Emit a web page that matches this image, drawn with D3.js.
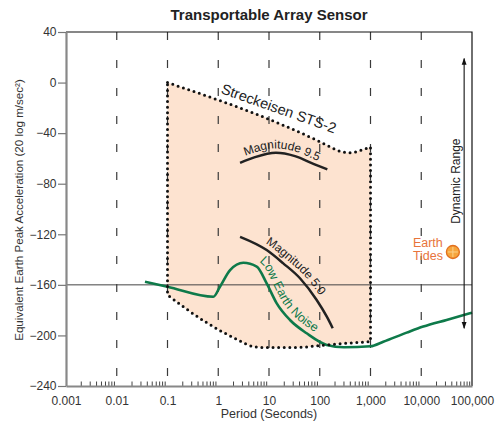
<!DOCTYPE html>
<html>
<head>
<meta charset="utf-8">
<script src="https://cdn.jsdelivr.net/npm/d3@7"></script>
<style>
  body { margin: 0; background: #fff; font-family: "Liberation Sans", Arial, sans-serif; }
</style>
</head>
<body>
<div id="chart"></div>
<script>
// chart values (period in seconds, level in 20 log m/sec^2)
var title = "Transportable Array Sensor";
var xTicks = [0.001, 0.01, 0.1, 1, 10, 100, 1000, 10000, 100000];
var xTickLabels = ["0.001", "0.01", "0.1", "1", "10", "100", "1,000", "10,000", "100,000"];
var yTicks = [40, 0, -40, -80, -120, -160, -200, -240];
var gridPeriods = [0.01, 0.1, 1, 10, 100, 1000, 10000];
var refLevel = -160;

var stsTop = [[0.1, 0], [19, -33.7], [87, -45.6], [160, -50.8], [260, -54.5], [400, -55.6], [650, -53.5], [1000, -51]];
var stsBottom = [[0.1, -168], [0.55, -189.1], [2.48, -203.6], [4.84, -208.7], [9.1, -209.6], [40.8, -209.4], [101, -208], [344, -206.2], [1000, -204.9]];
var lowEarthNoise = [[0.036, -157.5], [0.1, -161.5], [0.8, -169.4], [1.08, -161.5], [1.71, -148.3], [3.12, -142.5], [5.73, -145.6],
  [9.0, -158.8], [14.2, -174.6], [25.9, -187.8], [55.3, -198.3], [137, -207.5], [300, -209.4], [1000, -208.6],
  [1786, -205], [5160, -197.8], [10960, -193], [31600, -187.7], [100000, -182]];
var magnitude95 = [[2.69, -63.5], [5.3, -59], [13.7, -55.6], [32.5, -58.2], [77, -64.5], [141, -68.7]];
var magnitude50 = [[2.69, -122], [9.0, -132.5], [19.1, -143], [40.8, -154.8], [87, -172], [137, -185], [180, -194.3]];
var earthTides = [42000, -134];
var dynamicRange = [19, -194.3];
var dynamicPeriod = 70000;

var W = 495, H = 425;
var margin = { left: 66, right: 23, top: 32, bottom: 39 };

var svg = d3.select("#chart").append("svg")
    .attr("width", W)
    .attr("height", H);
var defs = svg.append("defs");

var x = d3.scaleLog()
    .domain([0.001, 100000])
    .range([margin.left, W - margin.right]);

var y = d3.scaleLinear()
    .domain([40, -240])
    .range([margin.top, H - margin.bottom]);

var line = d3.line()
    .x(function(d) { return x(d[0]); })
    .y(function(d) { return y(d[1]); })
    .curve(d3.curveMonotoneX);

// shaded sensor region
var topPath = line(stsTop);
var botPath = line(stsBottom.slice().reverse()).replace(/^M/, "L");
var regionPath = topPath + botPath + "Z";

svg.append("path")
    .attr("d", regionPath)
    .attr("fill", "#fde3d0")
    .attr("stroke", "none");

// dashed decade lines
svg.selectAll(".grid")
    .data(gridPeriods)
  .enter().append("line")
    .attr("class", "grid")
    .attr("x1", function(d) { return x(d); })
    .attr("x2", function(d) { return x(d); })
    .attr("y1", y(40))
    .attr("y2", y(-240))
    .attr("stroke", "#3a3a3a")
    .attr("stroke-width", 1.2)
    .attr("stroke-dasharray", "8,20");

// reference line
svg.append("line")
    .attr("x1", x(0.001)).attr("x2", x(100000))
    .attr("y1", y(refLevel)).attr("y2", y(refLevel))
    .attr("stroke", "#444")
    .attr("stroke-width", 1);

// magnitude curves
var m95 = svg.append("path")
    .attr("d", line(magnitude95))
    .attr("fill", "none")
    .attr("stroke", "#222")
    .attr("stroke-width", 2.5);

var m50 = svg.append("path")
    .attr("d", line(magnitude50))
    .attr("fill", "none")
    .attr("stroke", "#222")
    .attr("stroke-width", 2.5);

var len = svg.append("path")
    .attr("d", line(lowEarthNoise))
    .attr("fill", "none")
    .attr("stroke", "#0e7a4a")
    .attr("stroke-width", 2.6);

// dotted outline
svg.append("path")
    .attr("d", regionPath)
    .attr("fill", "none")
    .attr("stroke", "#111")
    .attr("stroke-width", 3)
    .attr("stroke-linecap", "round")
    .attr("stroke-dasharray", "0,5.6");

// hidden path running parallel to a curve, on its upper side
function offsetPath(id, node, dist) {
  var L = node.getTotalLength(), pts = [];
  for (var s = 0; s <= L; s += 2) {
    var p = node.getPointAtLength(s);
    var q = node.getPointAtLength(Math.min(L, s + 1));
    var r = node.getPointAtLength(Math.max(0, s - 1));
    var tx = q.x - r.x, ty = q.y - r.y, n = Math.sqrt(tx * tx + ty * ty) || 1;
    pts.push([p.x + dist * ty / n, p.y - dist * tx / n]);
  }
  return defs.append("path")
      .attr("id", id)
      .attr("d", d3.line()(pts))
      .node();
}

function offsetAtX(node, px) {
  var L = node.getTotalLength();
  for (var s = 0; s <= L; s += 0.5) {
    if (node.getPointAtLength(s).x >= px) return s;
  }
  return 0;
}

function pathLabel(id, node, dist, txt, startX, size, color) {
  var p = offsetPath(id, node, dist);
  svg.append("text")
      .attr("font-size", size)
      .attr("fill", color)
    .append("textPath")
      .attr("href", "#" + id)
      .attr("startOffset", offsetAtX(p, startX))
      .text(txt);
}

pathLabel("m95", m95.node(), 4.5, "Magnitude 9.5", 245, 12, "#222");
pathLabel("m50", m50.node(), 5, "Magnitude 5.0", 265, 12, "#222");
pathLabel("len", len.node(), 5.5, "Low Earth Noise", 259, 12.5, "#0e7a4a");

// STS-2 label along top edge
var sx = x(19) - 6, sy = y(-33.7) - 12;
svg.append("text")
    .attr("transform", "translate(" + sx + "," + sy + ") rotate(19.5)")
    .attr("text-anchor", "middle")
    .attr("font-size", 14.5)
    .attr("fill", "#222")
    .text("Streckeisen STS-2");

// earth tides
var ex = x(earthTides[0]), ey = y(earthTides[1]);
svg.append("circle")
    .attr("cx", ex).attr("cy", ey).attr("r", 6.5)
    .attr("fill", "#f6a53c")
    .attr("stroke", "#e2701f")
    .attr("stroke-width", 1.3);
svg.append("path")
    .attr("d", "M" + (ex - 5) + "," + ey + "H" + (ex + 5) + "M" + ex + "," + (ey - 5) + "V" + (ey + 5))
    .attr("stroke", "#fbd08a")
    .attr("stroke-width", 1);
svg.append("text")
    .attr("x", ex - 40).attr("y", ey - 5)
    .attr("font-size", 12.5)
    .attr("fill", "#e8743b")
    .text("Earth");
svg.append("text")
    .attr("x", ex - 40).attr("y", ey + 8.5)
    .attr("font-size", 12.5)
    .attr("fill", "#e8743b")
    .text("Tides");

// dynamic range arrow
defs.append("marker")
    .attr("id", "arr")
    .attr("viewBox", "0 0 10 10")
    .attr("refX", 9).attr("refY", 5)
    .attr("markerWidth", 7).attr("markerHeight", 7)
    .attr("markerUnits", "userSpaceOnUse")
    .attr("orient", "auto-start-reverse")
  .append("path")
    .attr("d", "M0,1.5L10,5L0,8.5Z")
    .attr("fill", "#111");

var dx = x(dynamicPeriod);
svg.append("line")
    .attr("x1", dx).attr("x2", dx)
    .attr("y1", y(dynamicRange[0])).attr("y2", y(dynamicRange[1]))
    .attr("stroke", "#111")
    .attr("stroke-width", 1.1)
    .attr("marker-start", "url(#arr)")
    .attr("marker-end", "url(#arr)");

svg.append("text")
    .attr("transform", "translate(" + (dx - 4.5) + "," + y(-78) + ") rotate(-90)")
    .attr("text-anchor", "middle")
    .attr("font-size", 12)
    .attr("fill", "#222")
    .text("Dynamic Range");

// frame top/right
svg.append("path")
    .attr("d", "M" + x(0.001) + "," + y(40) + "H" + x(100000) + "V" + y(-240))
    .attr("fill", "none")
    .attr("stroke", "#111")
    .attr("stroke-width", 1.2);

// minor ticks
var minor = [];
for (var e = -3; e < 5; e++) {
  for (var k = 2; k <= 9; k++) minor.push(k * Math.pow(10, e));
}
svg.selectAll(".minor")
    .data(minor)
  .enter().append("line")
    .attr("x1", function(d) { return x(d); })
    .attr("x2", function(d) { return x(d); })
    .attr("y1", y(-240))
    .attr("y2", y(-240) - 4.5)
    .attr("stroke", "#444")
    .attr("stroke-width", 1);

// axes
var xAxis = d3.axisBottom(x)
    .tickValues(xTicks)
    .tickFormat(function(d, i) { return xTickLabels[i]; })
    .tickSize(0)
    .tickPadding(10.5);

var xg = svg.append("g")
    .attr("transform", "translate(0," + y(-240) + ")")
    .call(xAxis);

var yAxis = d3.axisLeft(y)
    .tickValues(yTicks)
    .tickSizeInner(8)
    .tickSizeOuter(0)
    .tickPadding(1.5);

var yg = svg.append("g")
    .attr("transform", "translate(" + x(0.001) + ",0)")
    .call(yAxis);

[xg, yg].forEach(function(g) {
  g.select(".domain").attr("stroke", "#888").attr("stroke-width", 2.2);
  g.selectAll(".tick line").attr("stroke", "#777").attr("stroke-width", 1.2);
  g.selectAll(".tick text")
    .attr("font-size", 12)
    .attr("font-family", "Liberation Sans, Arial, sans-serif")
    .attr("fill", "#333");
});

// titles
svg.append("text")
    .attr("x", 269).attr("y", 20)
    .attr("text-anchor", "middle")
    .attr("font-size", 15)
    .attr("font-weight", "bold")
    .attr("fill", "#222")
    .text(title);

svg.append("text")
    .attr("x", 269).attr("y", 418)
    .attr("text-anchor", "middle")
    .attr("font-size", 12.5)
    .attr("fill", "#333")
    .text("Period (Seconds)");

svg.append("text")
    .attr("transform", "translate(23," + 210 + ") rotate(-90)")
    .attr("text-anchor", "middle")
    .attr("font-size", 11.6)
    .attr("fill", "#333")
    .text("Equivalent Earth Peak Acceleration (20 log m/sec²)");
</script>
</body>
</html>
